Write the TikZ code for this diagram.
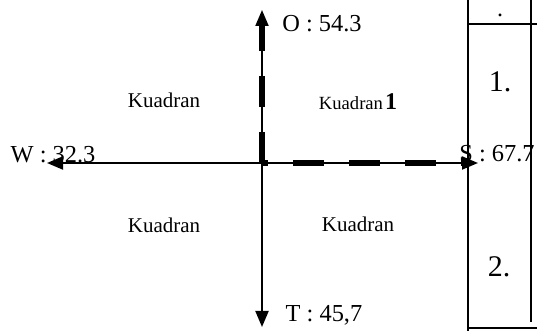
\documentclass[tikz,border=0pt]{standalone}
\usepackage{fontspec}
\setmainfont{Liberation Serif}
\usetikzlibrary{arrows.meta}

\begin{document}
\begin{tikzpicture}[
        x=0.5pt, y=-0.5pt,
        axis/.style={
            -{Triangle[length=8pt,width=6.5pt]},
            line width=1pt
        },
        axisdash/.style={
            line width=2.6pt,
            dash pattern=on 15.5pt off 12.5pt
        },
        quadlabel/.style={
            anchor=base,
            inner sep=0pt,
            font=\fontsize{10.5}{12}\selectfont
        },
        axislabel/.style={
            anchor=base,
            inner sep=0pt,
            font=\fontsize{12.2}{14}\selectfont
        },
        cellnum/.style={
            anchor=base,
            inner sep=0pt,
            font=\fontsize{15}{18}\selectfont
        },
        tableline/.style={
            line width=1pt
        }
    ]
    \useasboundingbox (0,0) rectangle (537,331);

    % Axis end points
    \coordinate (O) at (262,163);
    \coordinate (oEnd) at (262,10);
    \coordinate (tEnd) at (262,327);
    \coordinate (wEnd) at (47,163);
    \coordinate (sEnd) at (478,163);

    % Axes
    \draw[axis] (O) -- (oEnd);
    \draw[axis] (O) -- (tEnd);
    \draw[axis] (O) -- (wEnd);
    \draw[axis] (O) -- (sEnd);

    % Thick dashes on O and S
    \draw[axisdash] (O) -- ([yshift=-7pt]oEnd);
    \draw[axisdash, dash phase=12.5pt] (O) -- ([xshift=-7pt]sEnd);

    % Axis labels
    \node[axislabel] (oLabel) at (322,32) {O : 54.3};
    \node[axislabel] (wLabel) at (53,163) {W : 32.3};
    \node[axislabel] (sLabel) at (497,162) {S : 67.7};
    \node[axislabel] (tLabel) at (324,322) {T : 45,7};

    % Quadrants
    \node[quadlabel] (quadB) at (164,108) {Kuadran};
    \node[anchor=base, inner sep=0pt] (quadA) at (358,110)
        {\fontsize{9.3}{11}\selectfont Kuadran\hspace{1pt}{\fontsize{12}{14}\selectfont\bfseries 1}};
    \node[quadlabel] (quadC) at (164,233) {Kuadran};
    \node[quadlabel] (quadD) at (358,232) {Kuadran};

    % Table on the right
    \draw[tableline] (468,0) -- (468,331);
    \draw[tableline] (531,0) -- (531,322);
    \draw[tableline] (468,24) -- (537,24);
    \draw[tableline] (468,328) -- (537,328);

    \node[cellnum, font=\fontsize{12}{14}\selectfont] (cellTop) at (500,17) {.};
    \node[cellnum] (cellOne) at (500,92) {1.};
    \node[cellnum] (cellTwo) at (499,277) {2.};
\end{tikzpicture}
\end{document}
